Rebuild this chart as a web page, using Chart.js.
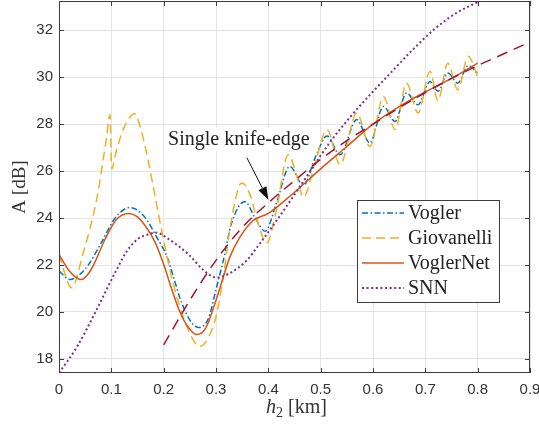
<!DOCTYPE html>
<html>
<head>
<meta charset="utf-8">
<script src="https://cdn.jsdelivr.net/npm/chart.js@4.4.1/dist/chart.umd.min.js"></script>
<style>
html,body{margin:0;padding:0;background:#fff;}
#wrap{width:539px;height:427px;position:relative;}
</style>
</head>
<body>
<div id="wrap"><canvas id="c" width="539" height="427"></canvas></div>
<script>
// ---- data ----
const xTicks = [0, 0.1, 0.2, 0.3, 0.4, 0.5, 0.6, 0.7, 0.8, 0.9];
const yTicks = [18, 20, 22, 24, 26, 28, 30, 32];

const voglerX = [0, 0.021, 0.04, 0.056, 0.082, 0.107, 0.136, 0.155, 0.17, 0.185, 0.206, 0.22, 0.231, 0.244, 0.255, 0.266, 0.285, 0.3, 0.314, 0.33, 0.355, 0.375, 0.394, 0.415, 0.441, 0.467, 0.49, 0.512, 0.537, 0.569, 0.594, 0.62, 0.642, 0.664, 0.686, 0.709, 0.724, 0.743, 0.762, 0.782, 0.8];
const voglerY = [21.74, 21.38, 21.6, 22.0, 23.0, 24.0, 24.45, 24.25, 23.85, 23.25, 22.37, 21.4, 20.6, 19.9, 19.5, 19.34, 19.7, 20.96, 22.2, 23.8, 24.7, 24.0, 23.44, 24.6, 26.2, 25.4, 26.6, 27.5, 26.7, 28.2, 27.2, 28.76, 28.12, 29.33, 28.83, 29.82, 29.4, 30.18, 29.75, 30.5, 30.18];

const giovX = [0, 0.024, 0.046, 0.072, 0.09, 0.0975, 0.1007, 0.11, 0.125, 0.145, 0.155, 0.17, 0.183, 0.195, 0.218, 0.244, 0.269, 0.285, 0.3, 0.314, 0.327, 0.349, 0.365, 0.38, 0.397, 0.415, 0.438, 0.452, 0.467, 0.49, 0.512, 0.537, 0.569, 0.594, 0.62, 0.642, 0.664, 0.686, 0.709, 0.724, 0.743, 0.762, 0.782, 0.8];
const giovY = [22.45, 21.03, 22.5, 24.8, 27.3, 28.4, 26.1, 26.9, 27.9, 28.45, 27.9, 26.5, 25.0, 23.6, 21.24, 19.4, 18.54, 18.9, 19.8, 21.5, 23.6, 25.5, 25.0, 23.8, 22.94, 24.3, 26.7, 26.0, 24.9, 26.4, 27.77, 26.28, 28.48, 27.05, 29.18, 27.77, 29.75, 28.48, 30.25, 29.0, 30.6, 29.47, 30.9, 30.03];

const voglerNetX = [0, 0.02, 0.043, 0.055, 0.066, 0.088, 0.11, 0.133, 0.15, 0.167, 0.183, 0.199, 0.215, 0.231, 0.247, 0.263, 0.28, 0.3, 0.327, 0.346, 0.371, 0.4, 0.441, 0.5, 0.55, 0.6, 0.65, 0.696, 0.75, 0.8];
const voglerNetY = [22.45, 21.74, 21.38, 21.6, 22.0, 23.1, 23.95, 24.2, 24.05, 23.6, 23.0, 22.1, 21.0, 20.0, 19.35, 19.04, 19.3, 20.5, 22.37, 23.2, 23.9, 24.2, 24.93, 26.1, 27.05, 28.0, 28.75, 29.33, 29.95, 30.6];

const snnX = [0, 0.034, 0.072, 0.091, 0.11, 0.13, 0.15, 0.17, 0.185, 0.21, 0.25, 0.275, 0.3, 0.33, 0.359, 0.38, 0.416, 0.45, 0.48, 0.52, 0.56, 0.594, 0.63, 0.677, 0.72, 0.76, 0.8];
const snnY = [17.4, 18.5, 20.1, 20.96, 21.8, 22.6, 23.1, 23.3, 23.38, 23.1, 22.4, 21.8, 21.47, 21.7, 22.2, 22.8, 23.9, 25.0, 26.0, 27.3, 28.4, 29.25, 30.1, 31.2, 32.1, 32.75, 33.2];

const knifeX = [0.2, 0.25, 0.3, 0.35, 0.4, 0.45, 0.5, 0.55, 0.6, 0.65, 0.7, 0.75, 0.8, 0.85, 0.9];
const knifeY = [18.6, 20.5, 22.2, 23.6, 24.65, 25.6, 26.5, 27.3, 28.0, 28.7, 29.35, 29.95, 30.5, 31.0, 31.5];

const seriesLabels = ['Vogler', 'Giovanelli', 'VoglerNet', 'SNN'];
const annotationText = 'Single knife-edge';

function pts(xs, ys){ return xs.map((x,i)=>({x:x, y:ys[i]})); }

const AX = '#3c3c3c';
const SERIF = '"Liberation Serif", "DejaVu Serif", serif';

const ds = [
  {label: seriesLabels[0], data: pts(voglerX, voglerY), borderColor:'#0072BD', borderDash:[6,2.5,1.5,2.5], order:5},
  {label: seriesLabels[1], data: pts(giovX, giovY), borderColor:'#EDB120', borderDash:[9,5], order:4},
  {label: seriesLabels[2], data: pts(voglerNetX, voglerNetY), borderColor:'#D95319', borderDash:[], order:3},
  {label: seriesLabels[3], data: pts(snnX, snnY), borderColor:'#7E2F8E', borderDash:[2,2.6], borderWidth:2, order:2},
  {label: 'knife', data: pts(knifeX, knifeY), borderColor:'#A2142F', borderDash:[11,7], order:1}
].map(d => Object.assign({showLine:true, pointRadius:0, borderWidth:1.5, fill:false, cubicInterpolationMode:'monotone', borderCapStyle:'butt'}, d));

const decor = {
  id:'decor',
  beforeDraw(chart){
    const c = chart.ctx;
    c.save(); c.fillStyle='#fff'; c.fillRect(0,0,chart.width,chart.height); c.restore();
  },
  beforeDatasetsDraw(chart){
    const c = chart.ctx, xs = chart.scales.x, ys = chart.scales.y;
    c.save();
    c.font = '20px ' + SERIF;
    const tx = xs.getPixelForValue(0.2084), ty = ys.getPixelForValue(27.13);
    const w = c.measureText(annotationText).width;
    c.fillStyle = '#fff';
    c.fillRect(tx-4, ty-17, w+8, 23);
    c.restore();
  },
  afterDraw(chart){
    const c = chart.ctx, a = chart.chartArea, xs = chart.scales.x, ys = chart.scales.y;
    c.save();
    c.strokeStyle = AX; c.lineWidth = 1; c.setLineDash([]);
    c.strokeRect(Math.round(a.left)+0.5, Math.round(a.top)+0.5, Math.round(a.right-a.left)-1, Math.round(a.bottom-a.top)-1);
    const tl = 5;
    c.beginPath();
    xTicks.forEach(v=>{
      const p = Math.round(xs.getPixelForValue(v))+0.5;
      c.moveTo(p, a.bottom); c.lineTo(p, a.bottom-tl);
      c.moveTo(p, a.top); c.lineTo(p, a.top+tl);
    });
    yTicks.forEach(v=>{
      const p = Math.round(ys.getPixelForValue(v))+0.5;
      c.moveTo(a.left, p); c.lineTo(a.left+tl, p);
      c.moveTo(a.right, p); c.lineTo(a.right-tl, p);
    });
    c.stroke();

    c.font = '20px ' + SERIF;
    c.fillStyle = '#222';
    c.textBaseline = 'alphabetic'; c.textAlign = 'left';
    c.fillText(annotationText, xs.getPixelForValue(0.2084), ys.getPixelForValue(27.13));
    const x0 = xs.getPixelForValue(0.359), y0 = ys.getPixelForValue(26.57);
    const x1 = xs.getPixelForValue(0.4), y1 = ys.getPixelForValue(24.78);
    const ang = Math.atan2(y1-y0, x1-x0), L = 13, H = 4.5;
    const bx = x1 - L*Math.cos(ang), by = y1 - L*Math.sin(ang);
    c.strokeStyle = '#111'; c.lineWidth = 1;
    c.beginPath(); c.moveTo(x0,y0); c.lineTo(bx,by); c.stroke();
    c.fillStyle = '#111';
    c.beginPath();
    c.moveTo(x1,y1);
    c.lineTo(bx + H*Math.sin(ang), by - H*Math.cos(ang));
    c.lineTo(bx - H*Math.sin(ang), by + H*Math.cos(ang));
    c.closePath(); c.fill();

    const lx = 357.5, ly = 200.5, lw = 142, lh = 102;
    c.fillStyle = '#fff'; c.fillRect(lx, ly, lw, lh);
    c.strokeStyle = AX; c.lineWidth = 1; c.strokeRect(lx, ly, lw, lh);
    const rows = [213, 238, 263, 288];
    for (let i=0;i<4;i++){
      const d = chart.data.datasets[i];
      c.strokeStyle = d.borderColor; c.lineWidth = d.borderWidth; c.setLineDash(d.borderDash);
      c.beginPath(); c.moveTo(362, rows[i]); c.lineTo(404, rows[i]); c.stroke();
      c.setLineDash([]);
      c.fillStyle = '#222'; c.font = '20px ' + SERIF; c.textBaseline = 'middle';
      c.fillText(d.label, 408, rows[i]+1);
    }

    c.fillStyle = '#333';
    c.save();
    c.translate(20, (a.top+a.bottom)/2);
    c.rotate(-Math.PI/2);
    c.font = '19px ' + SERIF; c.textAlign='center'; c.textBaseline='middle';
    c.fillText('A [dB]', 0, 0);
    c.restore();
    c.font = 'italic 20px ' + SERIF;
    const wh = c.measureText('h').width;
    c.font = '14px ' + SERIF;
    const w2 = c.measureText('2').width;
    c.font = '20px ' + SERIF;
    const wr = c.measureText(' [km]').width;
    const total = wh + w2 + wr;
    let sx = (a.left + a.right)/2 - total/2 + 2;
    const base = 413;
    c.textAlign='left'; c.textBaseline='alphabetic';
    c.font = 'italic 20px ' + SERIF; c.fillText('h', sx, base); sx += wh;
    c.font = '14px ' + SERIF; c.fillText('2', sx, base+4); sx += w2;
    c.font = '20px ' + SERIF; c.fillText(' [km]', sx, base);
    c.restore();
  }
};

new Chart(document.getElementById('c'), {
  type:'scatter',
  data:{datasets: ds},
  options:{
    responsive:false,
    animation:false,
    events:[],
    layout:{autoPadding:false, padding:{top:1, right:9, left:0, bottom:0}},
    plugins:{legend:{display:false}, tooltip:{enabled:false}},
    scales:{
      x:{
        type:'linear', min:0, max:0.9,
        afterBuildTicks: s => { s.ticks = xTicks.map(v=>({value:v})); },
        afterFit: s => { s.height = 54; s.paddingLeft = 0; s.paddingRight = 0; },
        grid:{color:'#e4e4e4', lineWidth:1, drawTicks:false},
        border:{display:false},
        ticks:{padding:8, color:'#333', font:{family:'"Liberation Sans", Arial, sans-serif', size:15},
          callback: v => v === 0 ? '0' : Number(v).toFixed(1), maxRotation:0, autoSkip:false}
      },
      y:{
        type:'linear', min:17.4, max:33.25,
        afterBuildTicks: s => { s.ticks = yTicks.map(v=>({value:v})); },
        afterFit: s => { s.width = 59; s.paddingTop = 0; s.paddingBottom = 0; },
        grid:{color:'#e4e4e4', lineWidth:1, drawTicks:false},
        border:{display:false},
        ticks:{padding:6, color:'#333', font:{family:'"Liberation Sans", Arial, sans-serif', size:15},
          callback: v => String(v), autoSkip:false}
      }
    }
  },
  plugins:[decor]
});
</script>
</body>
</html>
